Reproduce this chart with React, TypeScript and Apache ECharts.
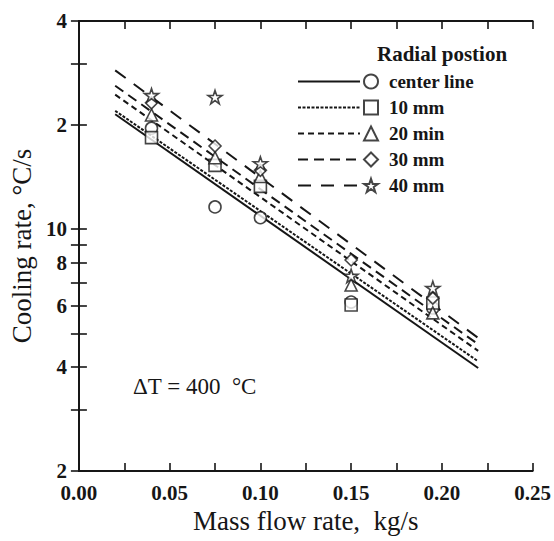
import React, { useEffect, useRef } from "react";
import * as echarts from "echarts";

// Radial positions (legend order); "20 min" is the label as printed.
const positions = ["center line", "10 mm", "20 min", "30 mm", "40 mm"];

// Measured cooling rates (°C/s) at each mass flow rate (kg/s)
const flowRates = [0.04, 0.075, 0.1, 0.15, 0.195];
const rateCenter = [19.6, 11.6, 10.8, 6.16, 5.92];
const rate10 = [18.4, 15.3, 13.3, 6.04, 6.12];
const rate20 = [21.4, 16.1, 14.2, 6.9, 5.73];
const rate30 = [23.2, 17.4, 14.8, 8.15, 6.32];
const rate40 = [24.4, 24.1, 15.5, 7.33, 6.76];

// Fitted lines: cooling rate at the two ends of the fitted flow range
const fitRange = [0.02, 0.22];
const fitCenter = [21.5, 3.97];
const fit10 = [22.0, 4.15];
const fit20 = [24.5, 4.45];
const fit30 = [26.0, 4.65];
const fit40 = [28.8, 4.85];

// Axis ticks and labels
const xTicks = [0, 0.025, 0.05, 0.075, 0.1, 0.125, 0.15, 0.175, 0.2, 0.225, 0.25];
const xLabels = [0, 0.05, 0.1, 0.15, 0.2, 0.25];
const yTicks = [2, 3, 4, 5, 6, 7, 8, 9, 10, 20, 30, 40];
const yLabels = [2, 4, 6, 8, 10, 20, 40];
const yRange = [2, 40];

const INK = "#161616";
const FONT = "'Liberation Serif', 'DejaVu Serif', serif";
const STAR =
  "path://M50,2 L61.5,37 L98,37 L68.5,58.5 L79.5,94 L50,72 L20.5,94 L31.5,58.5 L2,37 L38.5,37 Z";

const rates = [rateCenter, rate10, rate20, rate30, rate40];
const fits = [fitCenter, fit10, fit20, fit30, fit40];
const symbols = ["circle", "rect", "triangle", "diamond", STAR];
const dashes: (string | number[])[] = ["solid", [3, 1.5], [6, 4], [10, 6], [13, 10]];

const lg = (v: number) => Math.log10(v);

const legendText = {
  fontFamily: FONT,
  fontSize: 19,
  fontWeight: "bold",
  color: INK,
  lineHeight: 19,
  padding: [0, 0, 0, 6],
};

function buildOption() {
  const fitNames = positions.map((p) => p + " fit");

  const lineSeries = positions.map((p, i) => ({
    type: "line",
    name: fitNames[i],
    data: fitRange.map((x, k) => [x, lg(fits[i][k])]),
    symbol: "none",
    lineStyle: { color: INK, width: 2, type: dashes[i] },
    itemStyle: { color: INK },
    z: 2,
  }));

  const pointSeries = positions.map((p, i) => ({
    type: "scatter",
    name: p,
    data: flowRates.map((x, k) => [x, lg(rates[i][k])]),
    symbol: symbols[i],
    symbolSize: i === 4 ? 14 : 12,
    symbolKeepAspect: true,
    itemStyle: { color: "#ffffff", borderColor: INK, borderWidth: 1.6 },
    z: 3,
  }));

  const xAxisBase = {
    type: "value",
    min: 0,
    max: 0.25,
    splitLine: { show: false },
    axisLine: { show: true, lineStyle: { color: INK, width: 2 } },
    axisTick: {
      show: true,
      inside: true,
      length: 8,
      customValues: xTicks,
      lineStyle: { color: INK, width: 1.6 },
    },
  };

  const yAxisBase = {
    type: "value",
    min: lg(yRange[0]),
    max: lg(yRange[1]),
    splitLine: { show: false },
    axisLine: { show: true, lineStyle: { color: INK, width: 2 } },
    axisTick: {
      show: true,
      inside: true,
      length: 8,
      customValues: yTicks.map(lg),
      lineStyle: { color: INK, width: 1.6 },
    },
  };

  return {
    animation: false,
    backgroundColor: "#ffffff",
    textStyle: { fontFamily: FONT, color: INK },
    grid: { left: 78, right: 21, top: 21, bottom: 70 },
    title: {
      text: "Radial postion",
      left: 377,
      top: 43,
      padding: 0,
      textStyle: { fontFamily: FONT, fontSize: 21, fontWeight: "bold", color: INK },
    },
    legend: [
      {
        // line-style samples
        data: fitNames,
        orient: "vertical",
        left: 297,
        top: 72,
        padding: 0,
        itemWidth: 62,
        itemHeight: 14,
        itemGap: 7,
        selectedMode: false,
        formatter: () => " ",
        itemStyle: { opacity: 0 },
        textStyle: legendText,
      },
      {
        // marker symbols and position labels
        data: positions,
        orient: "vertical",
        left: 363,
        top: 72,
        padding: 0,
        itemWidth: 14,
        itemHeight: 14,
        itemGap: 7,
        selectedMode: false,
        textStyle: legendText,
      },
    ],
    xAxis: [
      {
        ...xAxisBase,
        position: "bottom",
        name: "Mass flow rate,  kg/s",
        nameLocation: "middle",
        nameGap: 32,
        nameTextStyle: { fontFamily: FONT, fontSize: 27, color: INK },
        axisLabel: {
          show: true,
          customValues: xLabels,
          formatter: (v: number) => v.toFixed(2),
          margin: 11,
          fontFamily: FONT,
          fontSize: 21,
          fontWeight: "bold",
          color: INK,
        },
      },
      {
        ...xAxisBase,
        position: "top",
        axisLabel: { show: false },
      },
    ],
    yAxis: [
      {
        ...yAxisBase,
        position: "left",
        name: "Cooling rate, °C/s",
        nameLocation: "middle",
        nameGap: 35,
        nameTextStyle: { fontFamily: FONT, fontSize: 27, color: INK },
        axisLabel: {
          show: true,
          customValues: yLabels.map(lg),
          formatter: (v: number) => {
            const n = Math.round(Math.pow(10, v));
            return n >= 20 ? String(n / 10) : String(n);
          },
          margin: 12,
          fontFamily: FONT,
          fontSize: 21,
          fontWeight: "bold",
          color: INK,
        },
      },
      {
        ...yAxisBase,
        position: "right",
        axisLabel: { show: false },
      },
    ],
    graphic: [
      {
        type: "text",
        left: 133,
        top: 375,
        style: {
          text: "ΔT = 400  °C",
          fontFamily: FONT,
          fontSize: 23,
          fill: INK,
        },
      },
    ],
    series: [...lineSeries, ...pointSeries],
  };
}

export default function App() {
  const ref = useRef<HTMLDivElement>(null);

  useEffect(() => {
    if (!ref.current) return;
    const chart = echarts.init(ref.current, undefined, { renderer: "svg" });
    chart.setOption(buildOption() as any);
    return () => chart.dispose();
  }, []);

  return (
    <div
      ref={ref}
      style={{
        position: "fixed",
        left: 0,
        top: 0,
        width: 554,
        height: 541,
        background: "#ffffff",
      }}
    />
  );
}
